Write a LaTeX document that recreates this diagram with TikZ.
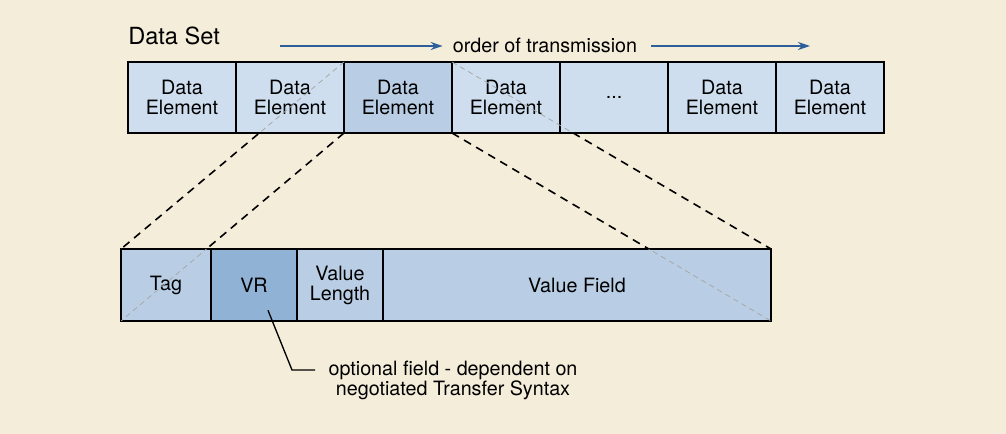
\documentclass[tikz,border=0pt]{standalone}
\usepackage{fontspec}
\setmainfont{TeX Gyre Heros}
\usetikzlibrary{arrows.meta,positioning}
\definecolor{bgcream}{HTML}{F4EDD9}
\definecolor{elemblue}{HTML}{CFDEEE}
\definecolor{selblue}{HTML}{B9CEE4}
\definecolor{vrblue}{HTML}{8FB2D5}
\definecolor{flowblue}{HTML}{2D5F9A}
\definecolor{hidgray}{HTML}{A8A8A8}
\tikzset{
  txt/.style={font=\fontsize{14.8}{15}\selectfont},
  elem/.style={txt, draw, line width=1.2pt, fill=elemblue, minimum width=81pt,
    minimum height=53.25pt, inner sep=0pt, outer sep=0pt, align=center},
  field/.style={elem, fill=selblue, minimum height=54pt},
  flow/.style={flowblue, line width=1.3pt, -{Stealth[length=9pt,width=6pt]}},
  seen/.style={dashed, dash pattern=on 6pt off 4.5pt, line width=1.2pt},
  hidden/.style={hidgray, dash pattern=on 4pt off 3pt, line width=0.6pt}
}
\begin{document}
\begin{tikzpicture}[x=0.75pt,y=-0.75pt]
  \fill[bgcream] (0,0) rectangle (1006,434);
  \useasboundingbox (0,0) rectangle (1006,434);

  \node[anchor=base west, inner sep=0pt, font=\fontsize{17.7}{20}\selectfont] (set) at (128,45) {Data Set};

  \node[elem, anchor=north west] (e1) at (128,62) {Data\\Element};
  \node[elem, right=0pt of e1] (e2) {Data\\Element};
  \node[elem, fill=selblue, right=0pt of e2] (e3) {Data\\Element};
  \node[elem, right=0pt of e3] (e4) {Data\\Element};
  \node[elem, right=0pt of e4] (e5) {...};
  \node[elem, right=0pt of e5] (e6) {Data\\Element};
  \node[elem, right=0pt of e6] (e7) {Data\\Element};

  \node[txt, inner sep=0pt] (order) at (545,45) {order of transmission};
  \coordinate (ostart) at (280,46);
  \coordinate (oend) at (810,46);
  \draw[flow] (ostart) -- ([xshift=-7.5pt]order.west |- ostart);
  \draw[flow] ([xshift=10.5pt]order.east |- oend) -- (oend);

  \node[field, anchor=north west, minimum width=67.5pt] (tag) at (121,249) {Tag};
  \node[field, fill=vrblue, minimum width=64.5pt, right=0pt of tag] (vr) {VR};
  \node[field, minimum width=64.5pt, right=0pt of vr] (vlen) {Value\\Length};
  \node[field, minimum width=291pt, right=0pt of vlen] (vfield) {Value Field};

  \begin{scope}
    \clip (e1.north west) rectangle (e7.south east) (tag.north west) rectangle (vfield.south east);
    \draw[hidden] (e3.north west) -- (tag.north west);
    \draw[hidden] (e3.south west) -- (tag.south west);
    \draw[hidden] (e3.south east) -- (vfield.south east);
    \draw[hidden] (e3.north east) -- (vfield.north east);
  \end{scope}
  \begin{scope}
    \clip (tag.north west) rectangle (e7.south east);
    \draw[seen] (e3.north west) -- (tag.north west);
    \draw[seen] (e3.south west) -- (tag.south west);
    \draw[seen] (e3.south east) -- (vfield.south east);
    \draw[seen] (e3.north east) -- (vfield.north east);
  \end{scope}

  \node[txt, align=center, anchor=base] (note) at (453,395) {optional field - dependent on\\negotiated Transfer Syntax};
  \draw[line width=1pt] ([xshift=10.5pt,yshift=8pt]vr.south) -- (292,370) -- (315,370);
\end{tikzpicture}
\end{document}
